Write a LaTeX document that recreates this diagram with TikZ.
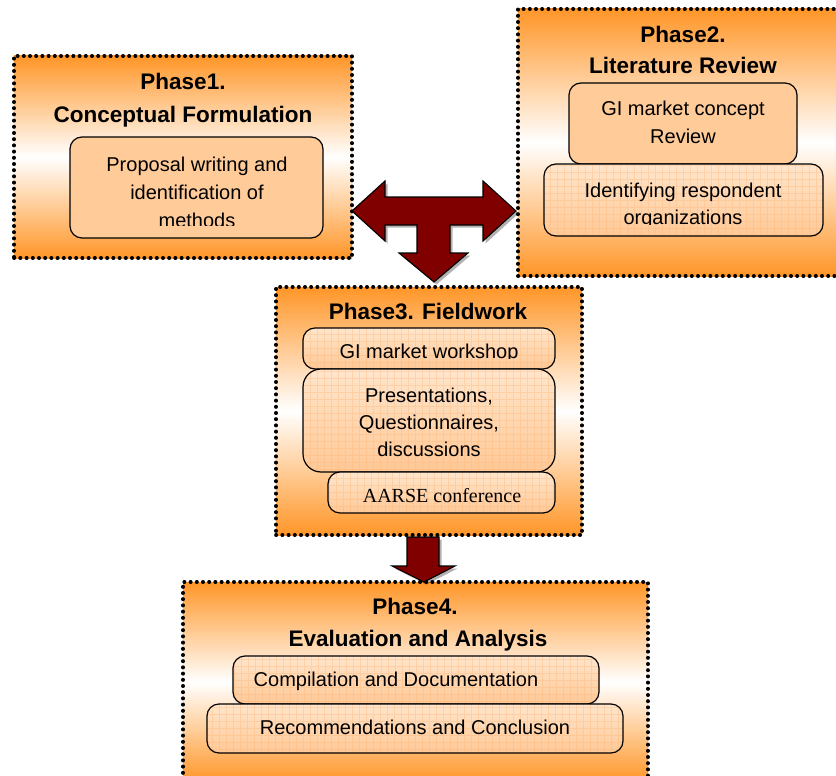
\documentclass[tikz,border=0pt]{standalone}
\usepackage{fontspec}
\setmainfont{Liberation Sans}
\newfontfamily\serifface{Liberation Serif}
\definecolor{phaseorange}{RGB}{255,150,40}
\definecolor{peach}{RGB}{255,204,153}
\definecolor{texlight}{RGB}{255,230,205}
\definecolor{texdark}{RGB}{255,200,150}
\definecolor{gridtone}{RGB}{255,178,110}
\definecolor{arrowred}{RGB}{128,0,0}
\begin{document}
\begin{tikzpicture}[x=1pt,y=-1pt,
  phasebox/.style={draw=black, line width=3.6pt, dash pattern=on 0.4pt off 5.8pt,
    line cap=round, top color=phaseorange, bottom color=phaseorange,
    middle color=white, inner sep=0pt},
  solidbox/.style={draw=black, line width=1.2pt, rounded corners=12pt,
    fill=peach, inner sep=0pt},
  texbox/.style={draw=black, line width=1.2pt, rounded corners=12pt,
    top color=texlight, bottom color=texdark, inner sep=0pt,
    path picture={\draw[gridtone, line width=0.5pt, opacity=0.35, step=7pt]
      (path picture bounding box.south west) grid (path picture bounding box.north east);}},
  title/.style={font=\fontsize{22.5}{27}\selectfont\bfseries, inner sep=0pt, anchor=base},
  body/.style={font=\fontsize{20}{24}\selectfont, inner sep=0pt, anchor=base},
  blockarrow/.style={fill=arrowred, draw=black, line width=1.1pt, line join=miter},
  arrowshadow/.style={fill=black, opacity=0.3}
]
\useasboundingbox (0,0) rectangle (836,776);

% phase frames
\node[phasebox, minimum width=338pt, minimum height=202pt] (phase1) at (183,157) {};
\node[phasebox, minimum width=322pt, minimum height=267pt] (phase2) at (679,142.5) {};
\node[phasebox, minimum width=306pt, minimum height=248pt] (phase3) at (429,411) {};
\node[phasebox, minimum width=465pt, minimum height=200pt] (phase4) at (415.5,682) {};

% phase 1 content
\node[solidbox, minimum width=253pt, minimum height=101pt] (p1box) at (196.5,187.5) {};
\node[title] (p1t1) at (183,89) {Phase1.};
\node[title] (p1t2) at (183,122) {Conceptual Formulation};
\node[body] (p1l1) at (197,171) {Proposal writing and};
\node[body] (p1l2) at (197,199) {identification of};
\begin{scope}
  \clip (0,0) rectangle (836,225);
  \node[body] (p1l3) at (197,227) {methods};
\end{scope}

% phase 2 content
\node[solidbox, minimum width=228pt, minimum height=81pt] (p2a) at (683,123.5) {};
\node[texbox, minimum width=279pt, minimum height=72pt] (p2b) at (683.5,200) {};
\node[title] (p2t1) at (683,43) {Phase2.};
\node[title] (p2t2) at (683,74) {Literature Review};
\node[body] (p2l1) at (683,115) {GI market concept};
\node[body] (p2l2) at (683,143) {Review};
\node[body] (p2l3) at (683,197) {Identifying respondent};
\begin{scope}
  \clip (0,0) rectangle (836,224);
  \node[body] (p2l4) at (683,224) {organizations};
\end{scope}

% phase 3 content
\node[texbox, minimum width=252pt, minimum height=41pt] (p3a) at (429,348.5) {};
\node[texbox, rounded corners=18pt, minimum width=252pt, minimum height=103pt] (p3b) at (429,420.5) {};
\node[texbox, minimum width=227pt, minimum height=41pt] (p3c) at (441.5,492.5) {};
\node[title] (p3t) at (428,319) {Phase3. Fieldwork};
\begin{scope}
  \clip (0,0) rectangle (836,358);
  \node[body] (p3l1) at (429,358) {GI market workshop};
\end{scope}
\node[body] (p3l2) at (429,402) {Presentations,};
\node[body] (p3l3) at (429,429) {Questionnaires,};
\node[body] (p3l4) at (429,456) {discussions};
\node[body, font=\fontsize{20}{24}\serifface] (p3l5) at (442,502) {AARSE conference};

% phase 4 content
\node[texbox, minimum width=366pt, minimum height=48pt] (p4a) at (416,680) {};
\node[texbox, minimum width=416pt, minimum height=49pt] (p4b) at (415,728.5) {};
\node[title] (p4t1) at (415,614) {Phase4.};
\node[title] (p4t2) at (418,646) {Evaluation and Analysis};
\node[body] (p4l1) at (396,686) {Compilation and Documentation};
\node[body] (p4l2) at (415,734) {Recommendations and Conclusion};

% T-shaped arrow between phases 1, 2 and 3
\def\tarrow{(352,211) -- (385,181) -- (385,197) -- (483,197) -- (483,181)
  -- (516,211) -- (483,241) -- (483,225) -- (450,225) -- (450,253)
  -- (468,253) -- (434,282) -- (399,253) -- (417,253) -- (417,225)
  -- (385,225) -- (385,241) -- cycle}
\begin{scope}[shift={(2.5,2.5)}]
  \fill[arrowshadow] \tarrow;
\end{scope}
\draw[blockarrow] \tarrow;

% arrow from phase 3 to phase 4
\def\darrow{(407,537) -- (439,537) -- (439,566) -- (455,566) -- (424,582)
  -- (392,566) -- (407,566) -- cycle}
\begin{scope}[shift={(2.5,2.5)}]
  \fill[arrowshadow] \darrow;
\end{scope}
\draw[blockarrow] \darrow;
\end{tikzpicture}
\end{document}
